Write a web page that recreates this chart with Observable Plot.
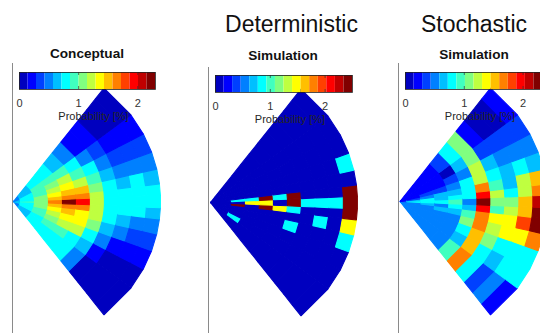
<!DOCTYPE html>
<html><head><meta charset="utf-8">
<script src="https://cdn.jsdelivr.net/npm/d3@7"></script>
<script src="https://cdn.jsdelivr.net/npm/@observablehq/plot@0.6"></script>
<style>
html,body{margin:0;padding:0;background:#fff;}
#root{position:relative;width:540px;height:333px;overflow:hidden;font-family:"Liberation Sans",Arial,Helvetica,sans-serif;background:#fff;}
.abs{position:absolute;}
.t{position:absolute;white-space:nowrap;transform:translateX(-50%);line-height:1;color:#111;}
</style></head><body><div id="root"></div>
<script>
// MATLAB jet(16)
const jet16 = ["#0000BF","#0000FF","#0040FF","#0080FF","#00BFFF","#00FFFF","#40FFBF","#80FF80",
               "#BFFF40","#FFFF00","#FFBF00","#FF8000","#FF4000","#FF0000","#BF0000","#800000"];
// radial ring edges (distance units) and angular sector edges (degrees, bottom -> top)
const ringEdges = [0, 0.5, 1.5, 2.5, 3.5, 4.5, 5.5, 6.5, 7.5, 8.5, 9.5, 10.5];
const angleEdges = [-52, -37, -28, -20, -13, -7, -2.5, 2.5, 7, 13, 20, 28, 37, 52];
const groupTitles = ["Deterministic", "Stochastic"];
const panelTitles = ["Conceptual", "Simulation", "Simulation"];
const colorbarMax = [2.3, 2.5, 2.33];
const colorbarTicks = [0, 1, 2];
const colorbarLabel = "Probability [%]";

// probability [%] per cell: rows = rings (inner -> outer), columns = sectors (bottom -> top)
const conceptual = [
 [0.5,0.5,0.5,0.65,0.65,0.65,0.8,0.65,0.65,0.65,0.5,0.5,0.5],
 [0.65,0.65,0.8,0.8,0.8,0.8,0.95,0.8,0.8,0.8,0.8,0.65,0.65],
 [0.8,0.8,0.95,0.95,1.1,1.1,1.1,1.1,1.1,0.95,0.95,0.95,0.8],
 [0.8,0.95,1.1,1.25,1.4,1.55,1.7,1.55,1.4,1.25,1.1,0.95,0.8],
 [0.8,0.95,1.25,1.4,1.55,1.7,2.25,1.7,1.55,1.4,1.25,0.95,0.65],
 [0.8,0.8,1.25,1.4,1.4,1.7,2.0,1.7,1.55,1.25,0.95,0.8,0.5],
 [0.5,0.65,0.8,1.1,1.25,1.25,1.25,1.25,1.1,0.95,0.8,0.5,0.2],
 [0.05,0.2,0.5,0.65,0.8,0.8,0.8,0.8,0.8,0.65,0.5,0.35,0.2],
 [0.05,0.05,0.2,0.5,0.65,0.8,0.8,0.8,0.65,0.5,0.35,0.2,0.05],
 [0.05,0.05,0.2,0.35,0.5,0.8,0.8,0.8,0.8,0.5,0.35,0.2,0.05],
 [0.05,0.05,0.2,0.35,0.5,0.65,0.8,0.8,0.65,0.5,0.35,0.2,0.05]
];
const deterministic = [
 [0,0,0,0,0,0,0,0,0,0,0,0,0],
 [0,0,0,0,0,0,0,0,0,0,0,0,0],
 [0,0.85,0,0,0,2.45,0,0.85,0,0,0,0,0],
 [0,0,0,0,0,0,1.5,0.85,0,0,0,0,0],
 [0,0,0,0,0,2.45,1.5,2.45,0,0,0,0,0],
 [0,0,0,0,0,1.5,0,0.85,0,0,0,0,0],
 [0,0,0,0.85,0,0.85,2.45,2.45,0,0,0,0,0],
 [0,0,0,0,0,0,0.85,0,0,0,0,0,0],
 [0,0,0,0,0.85,0,0.85,0,0,0,0,0,0],
 [0,0,0,0,0,0,0.85,0,0,0,0,0,0],
 [0,0,0,0.85,1.5,2.45,2.45,2.45,0,0.85,0,0,0]
];
const stochastic = [
 [0.5,0.5,0.5,0.5,0.5,0.35,0.8,0.35,0.2,0.2,0.2,0.2,0.2],
 [0.5,0.5,0.5,0.5,0.5,0.5,0.8,0.65,0.35,0.2,0.2,0.2,0.2],
 [0.5,0.5,0.5,0.5,0.5,0.65,0.8,0.8,0.5,0.35,0.2,0.2,0.2],
 [0.5,0.5,0.5,0.5,0.65,0.5,0.8,0.65,0.65,0.35,0.2,0.2,0.2],
 [0.5,0.5,0.5,0.5,0.65,0.8,0.95,0.8,0.65,0.5,0.35,0.05,0.35],
 [0.95,0.65,0.8,1.1,0.95,0.65,0.5,0.8,0.8,0.8,0.5,0.65,0.8],
 [1.7,1.55,1.55,1.7,1.7,2.0,2.25,2.0,1.7,1.25,1.25,1.1,1.1],
 [0.8,0.8,1.1,1.25,1.4,0.95,1.1,1.25,0.95,0.8,0.65,0.35,0.2],
 [0.35,0.65,0.8,1.4,1.4,1.25,1.1,0.8,0.65,0.65,0.5,0.35,0.05],
 [0.5,0.8,0.8,1.4,1.85,1.55,1.55,1.25,1.25,0.8,0.5,0.35,0.05],
 [0.2,0.8,0.8,1.7,2.25,2.25,2.1,1.7,1.55,0.65,0.5,0.35,0.2]
];
const panelData = [conceptual, deterministic, stochastic];

// layout (pixels)
const layout = [
  {lineX: 12,  lineTop: 63, apexX: 13,    apexY: 201, cbX: 19,  cbY: 72,   cbLen: 136, titleX: 87,  titleBase: 59},
  {lineX: 208, lineTop: 67, apexX: 210,   apexY: 202, cbX: 215, cbY: 74.5, cbLen: 137, titleX: 283, titleBase: 60.5},
  {lineX: 398, lineTop: 63, apexX: 399.5, apexY: 201, cbX: 405, cbY: 71.5, cbLen: 137, titleX: 474, titleBase: 59.3}
];
const groupLayout = [{x: 291.5, base: 32.3}, {x: 474, base: 32.3}];

const root = document.getElementById("root");

function colorOpts(max) {
  return {type: "threshold", domain: d3.range(1, 16).map(k => k * max / 16), range: jet16};
}

function place(node, left, top) {
  const d = document.createElement("div");
  d.className = "abs";
  d.style.left = left + "px";
  d.style.top = top + "px";
  d.appendChild(node);
  root.appendChild(d);
}

function fan(values, L, max) {
  const cells = [];
  values.forEach((row, i) => row.forEach((v, j) => {
    const r0 = ringEdges[i], r1 = ringEdges[i + 1];
    const a0 = angleEdges[j] * Math.PI / 180, a1 = angleEdges[j + 1] * Math.PI / 180;
    [[r0, a0], [r1, a0], [r1, a1], [r0, a1]].forEach(([r, a]) =>
      cells.push({id: i * 100 + j, x: r * Math.cos(a), y: r * Math.sin(a), v}));
  }));
  const svgLeft = L.lineX - 1, svgTop = L.lineTop;
  const W = 175, H = 333 - svgTop;
  const ax = L.apexX - svgLeft, ay = L.apexY - svgTop;
  const kx = 14, ky = 13.7;
  const xd = [(1 - ax) / kx, (W - ax) / kx];
  const svg = Plot.plot({
    width: W, height: H, marginLeft: 1, marginRight: 0, marginTop: 0, marginBottom: 0,
    x: {domain: xd, axis: null},
    y: {domain: [-(H - ay) / ky, ay / ky], axis: null},
    color: colorOpts(max),
    style: {background: "transparent", maxWidth: "none", overflow: "visible"},
    marks: [
      Plot.line(cells, {x: "x", y: "y", z: "id", fill: "v", stroke: "v", strokeWidth: 1.1,
                        strokeLinejoin: "miter", curve: "linear-closed"}),
      Plot.ruleX([xd[0]], {stroke: "#8a8a8a", strokeWidth: 1})
    ]
  });
  place(svg, svgLeft, svgTop);
}

function colorbar(L, max) {
  const bw = max / 16;
  const bands = d3.range(16).map(k => ({lo: k * bw, hi: (k + 1) * bw, mid: (k + 0.5) * bw}));
  const pad = 14, barH = 17, H = 62;
  const W = L.cbLen + 2 * pad;
  const svg = Plot.plot({
    width: W, height: H, marginLeft: pad, marginRight: pad, marginTop: 1, marginBottom: H - 1 - barH,
    x: {domain: [0, max]},
    color: colorOpts(max),
    style: {background: "transparent", maxWidth: "none", overflow: "visible", color: "#333",
            fontFamily: "'Liberation Sans', Arial, sans-serif"},
    marks: [
      Plot.rect(bands, {x1: "lo", x2: "hi", fill: "mid"}),
      Plot.ruleX(colorbarTicks, {insetTop: 14, stroke: "#333", strokeWidth: 0.7}),
      Plot.ruleX(colorbarTicks, {insetBottom: 14, stroke: "#333", strokeWidth: 0.7}),
      Plot.frame({stroke: "#222", strokeWidth: 0.8}),
      Plot.axisX({ticks: colorbarTicks, tickFormat: d => String(d), tickSize: 0, tickPadding: 10, fontSize: 11, label: null}),
      Plot.text([colorbarLabel], {text: d => d, frameAnchor: "bottom", lineAnchor: "middle", dx: 6, dy: 27,
                                  fontSize: 11, fill: "#262626"})
    ]
  });
  place(svg, L.cbX - pad, L.cbY - 1);
}

function label(text, x, base, fs, bold) {
  const d = document.createElement("div");
  d.className = "t";
  d.textContent = text;
  d.style.left = x + "px";
  d.style.top = (base - 0.8465 * fs) + "px";
  d.style.fontSize = fs + "px";
  if (bold) d.style.fontWeight = "bold";
  root.appendChild(d);
}

panelData.forEach((vals, p) => fan(vals, layout[p], colorbarMax[p]));
panelData.forEach((vals, p) => colorbar(layout[p], colorbarMax[p]));
panelTitles.forEach((t, p) => label(t, layout[p].titleX, layout[p].titleBase, 13.6, true));
groupTitles.forEach((t, g) => label(t, groupLayout[g].x, groupLayout[g].base, 23, false));
</script>
</body></html>
